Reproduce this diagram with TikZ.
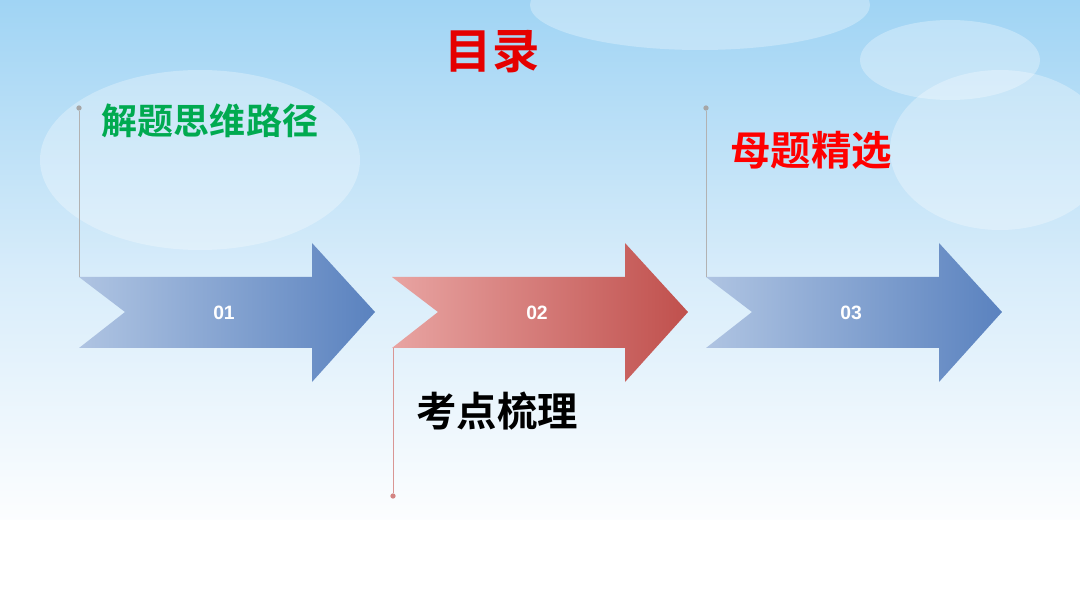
\documentclass[tikz,border=0pt]{standalone}
\usepackage{fontspec}
\newfontfamily\cjk{Noto Sans CJK SC Bold}
\newfontfamily\numf{Liberation Sans}
\usetikzlibrary{shadings}
\definecolor{bluedark}{HTML}{5A82BF}
\definecolor{bluelight}{HTML}{AFC4E2}
\definecolor{reddark}{HTML}{C0504D}
\definecolor{redlight}{HTML}{E8A4A2}
\tikzset{
 num/.style={text=white,font=\numf\bfseries\fontsize{11}{12}\selectfont},
 lead/.style={draw=#1!60!white,line width=0.5pt},
 dot/.style={circle,fill=#1!70!white,inner sep=0pt,minimum size=3pt},
 cloud/.style={fill=white,opacity=0.3,draw=none}
}
\begin{document}
\begin{tikzpicture}[x=0.02cm,y=-0.02cm]
\useasboundingbox (0,0) rectangle (1080,608);
\shade[top color={rgb,255:red,160;green,212;blue,244}, bottom color=white,middle color={rgb,255:red,215;green,236;blue,250}] (0,0) rectangle (1080,540);
\fill[white] (0,520) rectangle (1080,608);
\fill[cloud] (700,5) ellipse (170 and 45);
\fill[cloud] (1000,150) ellipse (110 and 80);
\fill[cloud] (200,160) ellipse (160 and 90);
\fill[cloud] (950,60) ellipse (90 and 40);
\foreach \dx/\c/\d/\n/\lab in {0/bluelight/bluedark/a1/01, 313/redlight/reddark/a2/02, 627/bluelight/bluedark/a3/03}{
 \shade[left color=\c, right color=\d] (79+\dx,277) -- (312+\dx,277) -- (312+\dx,243) -- (375+\dx,312) -- (312+\dx,382) -- (312+\dx,348) -- (79+\dx,348) -- (125+\dx,312) -- cycle;
 \node[num] (\n) at (224+\dx,313) {\lab};
}
\coordinate (l1b) at (79,277); \node[dot=gray] (l1t) at (79,108) {};
\draw[lead=gray] (l1t) -- (l1b);
\coordinate (l3b) at (706,277); \node[dot=gray] (l3t) at (706,108) {};
\draw[lead=gray] (l3t) -- (l3b);
\coordinate (l2t) at (393,348); \node[dot=reddark] (l2b) at (393,496) {};
\draw[lead=reddark] (l2t) -- (l2b);
\node (title) [text=red!90!black,font=\cjk\fontsize{27}{30}\selectfont] at (492,52) {目录};
\node (t1) [text={rgb,255:red,0;green,170;blue,80},font=\cjk\fontsize{20.5}{24}\selectfont] at (210,121) {解题思维路径};
\node (t3) [text=red,font=\cjk\fontsize{23}{26}\selectfont] at (811,150) {母题精选};
\node (t2) [text=black,font=\cjk\fontsize{23}{26}\selectfont] at (497,411) {考点梳理};
\end{tikzpicture}
\end{document}
